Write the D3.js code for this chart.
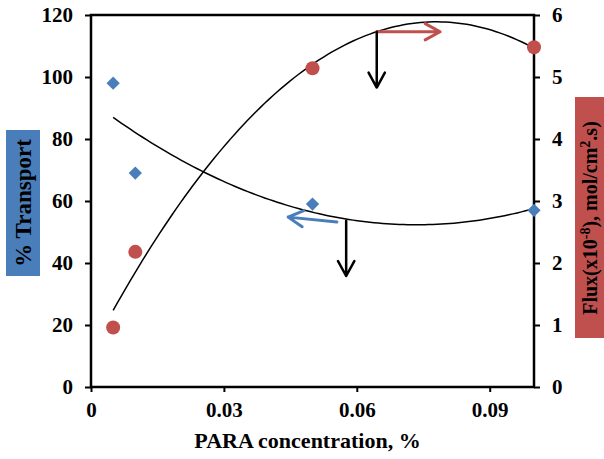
<!DOCTYPE html>
<html>
<head>
<meta charset="utf-8">
<script src="https://cdn.jsdelivr.net/npm/d3@7"></script>
<style>
  body { margin: 0; background: #fff; }
  text { font-family: "Liberation Serif", "Times New Roman", serif; font-weight: bold; }
</style>
</head>
<body>
<div id="chart"></div>
<script>
// Data
const concentration = [0.005, 0.01, 0.05, 0.1];
const transport = [98, 69, 59, 57];
const flux = [0.96, 2.18, 5.14, 5.48];
const xTicks = [0, 0.03, 0.06, 0.09];
const leftTicks = [0, 20, 40, 60, 80, 100, 120];
const rightTicks = [0, 1, 2, 3, 4, 5, 6];

const width = 604, height = 459;
const margin = { top: 15, right: 70, bottom: 72, left: 91 };
const blue = "#4a7ebb", red = "#c0504d";

const svg = d3.select("#chart").append("svg")
  .attr("width", width).attr("height", height);

const x = d3.scaleLinear().domain([0, 0.1]).range([margin.left, width - margin.right]);
const yL = d3.scaleLinear().domain([0, 120]).range([height - margin.bottom, margin.top]);
const yR = d3.scaleLinear().domain([0, 6]).range([height - margin.bottom, margin.top]);

// quadratic least squares fit (Excel-style poly trendline, order 2)
const polyFit = (xs, ys) => {
  const S = k => d3.sum(xs, v => Math.pow(v, k));
  const T = k => d3.sum(xs, (v, i) => Math.pow(v, k) * ys[i]);
  const A = [[S(0), S(1), S(2), T(0)], [S(1), S(2), S(3), T(1)], [S(2), S(3), S(4), T(2)]];
  for (let i = 0; i < 3; i++) {
    for (let j = i + 1; j < 3; j++) {
      const f = A[j][i] / A[i][i];
      for (let k = i; k < 4; k++) A[j][k] -= f * A[i][k];
    }
  }
  const c = [0, 0, 0];
  for (let i = 2; i >= 0; i--) {
    let s = A[i][3];
    for (let k = i + 1; k < 3; k++) s -= A[i][k] * c[k];
    c[i] = s / A[i][i];
  }
  return v => c[0] + c[1] * v + c[2] * v * v;
};

const fitT = polyFit(concentration, transport);
const fitF = polyFit(concentration, flux);
const xs = d3.range(0, 101).map(i => 0.005 + i * (0.1 - 0.005) / 100);

svg.append("path")
  .attr("d", d3.line().x(d => x(d)).y(d => yL(fitT(d)))(xs))
  .attr("fill", "none").attr("stroke", "#000").attr("stroke-width", 1.5);
svg.append("path")
  .attr("d", d3.line().x(d => x(d)).y(d => yR(fitF(d)))(xs))
  .attr("fill", "none").attr("stroke", "#000").attr("stroke-width", 1.5);

// Axes
const xAxis = svg.append("g")
  .attr("transform", `translate(0,${yL(0)})`)
  .call(d3.axisBottom(x).tickValues(xTicks).tickSize(5).tickPadding(10)
    .tickFormat(d => d === 0 ? "0" : d3.format(".2f")(d)));
const lAxis = svg.append("g")
  .attr("transform", `translate(${x(0)},0)`)
  .call(d3.axisLeft(yL).tickValues(leftTicks).tickSize(6).tickPadding(12));
const rAxis = svg.append("g")
  .attr("transform", `translate(${x(0.1)},0)`)
  .call(d3.axisRight(yR).tickValues(rightTicks).tickSize(6).tickPadding(12)
    .tickFormat(d3.format("d")));

[xAxis, lAxis, rAxis].forEach(g => {
  g.attr("font-family", null).attr("font-size", null);
  g.select(".domain").remove();
  g.selectAll("line").attr("stroke", "#000").attr("stroke-width", 2);
  g.selectAll("text").style("font-size", "21px").attr("fill", "#000");
});

// plot frame
svg.append("rect")
  .attr("x", x(0)).attr("y", yL(120))
  .attr("width", x(0.1) - x(0)).attr("height", yL(0) - yL(120))
  .attr("fill", "none").attr("stroke", "#000").attr("stroke-width", 2.5);

// Markers
svg.selectAll(".diamond").data(concentration).join("path")
  .attr("class", "diamond")
  .attr("d", d3.symbol(d3.symbolSquare, 88))
  .attr("transform", (d, i) => `translate(${x(d)},${yL(transport[i])}) rotate(45)`)
  .attr("fill", blue);
svg.selectAll(".dot").data(concentration).join("circle")
  .attr("class", "dot")
  .attr("cx", d => x(d)).attr("cy", (d, i) => yR(flux[i]))
  .attr("r", 7).attr("fill", red);

// Arrows (positions in data units)
const arrow = (x1, y1, x2, y2, color, w) => {
  const ang = Math.atan2(y2 - y1, x2 - x1);
  const len = 17, spread = 0.5;
  const p1 = [x2 - len * Math.cos(ang - spread), y2 - len * Math.sin(ang - spread)];
  const p2 = [x2 - len * Math.cos(ang + spread), y2 - len * Math.sin(ang + spread)];
  svg.append("path")
    .attr("d", `M${x1},${y1}L${x2},${y2}M${p1}L${x2},${y2}L${p2}`)
    .attr("fill", "none").attr("stroke", color).attr("stroke-width", w)
    .attr("stroke-linecap", "round").attr("stroke-linejoin", "round");
};
arrow(x(0.0645), yR(5.73), x(0.0788), yR(5.73), red, 3);
arrow(x(0.0645), yR(5.73), x(0.0645), yR(4.83), "#000", 2.5);
arrow(x(0.0555), yL(53.2), x(0.0445), yL(54.8), blue, 3);
arrow(x(0.0576), yL(53.6), x(0.0576), yL(35.8), "#000", 2.5);

// Axis titles
svg.append("text")
  .attr("x", (x(0) + x(0.1)) / 2 - 5).attr("y", 448)
  .attr("text-anchor", "middle")
  .style("font-size", "22px")
  .text("PARA concentration, %");

svg.append("rect").attr("x", 6).attr("y", 130).attr("width", 34).attr("height", 146).attr("fill", blue);
svg.append("text")
  .attr("transform", "translate(31,203) rotate(-90)")
  .attr("text-anchor", "middle")
  .style("font-size", "23px")
  .text("% Transport");

svg.append("rect").attr("x", 575).attr("y", 97).attr("width", 29).attr("height", 241).attr("fill", red);
const rt = svg.append("text")
  .attr("transform", "translate(597,218) rotate(-90)")
  .attr("text-anchor", "middle")
  .style("font-size", "20px");
rt.append("tspan").text("Flux(x10");
rt.append("tspan").attr("dy", -7).style("font-size", "14px").text("-8");
rt.append("tspan").attr("dy", 7).text("), mol/cm");
rt.append("tspan").attr("dy", -7).style("font-size", "14px").text("2");
rt.append("tspan").attr("dy", 7).text(".s)");
</script>
</body>
</html>
